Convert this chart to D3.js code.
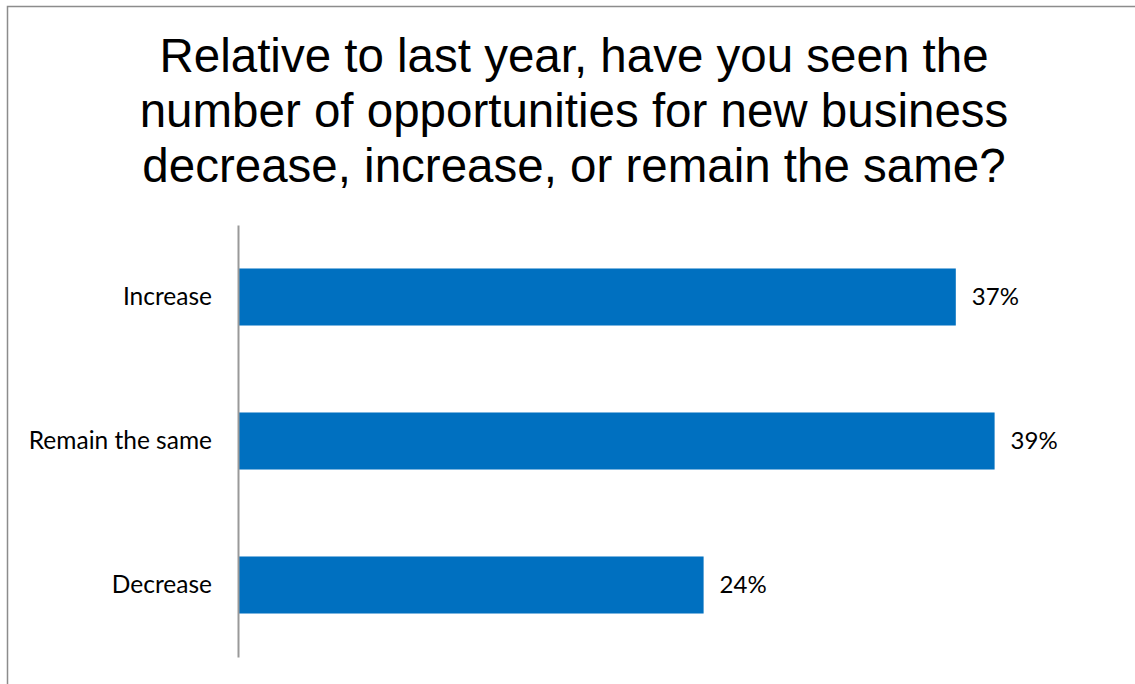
<!DOCTYPE html>
<html>
<head>
<meta charset="utf-8">
<script src="https://cdn.jsdelivr.net/npm/d3@7"></script>
<style>
  html, body { margin: 0; padding: 0; background: #fff; }
  svg { display: block; }
</style>
</head>
<body>
<svg id="chart" width="1135" height="684"></svg>
<script>
// Survey responses, top to bottom
const categories = ["Increase", "Remain the same", "Decrease"];
const shares = [37, 39, 24];
const titleLines = [
  "Relative to last year, have you seen the",
  "number of opportunities for new business",
  "decrease, increase, or remain the same?"
];

const svg = d3.select("#chart");
const W = 1135, H = 684;

// outer frame (only left and top edges fall inside the view)
svg.append("rect")
  .attr("x", 7.5).attr("y", 6.5)
  .attr("width", W + 20).attr("height", H + 20)
  .attr("fill", "#fff")
  .attr("stroke", "#8c8c8c")
  .attr("stroke-width", 1.5);

// title
svg.append("text")
  .attr("text-anchor", "middle")
  .attr("font-family", "'Liberation Sans', Arial, sans-serif")
  .attr("font-size", 47.5)
  .attr("fill", "#000")
  .selectAll("tspan")
  .data(titleLines)
  .join("tspan")
  .attr("x", 574)
  .attr("y", (d, i) => 72 + i * 55)
  .text(d => d);

const x0 = 238;
const x = d3.scaleLinear().domain([0, 40]).range([x0, x0 + 776]);
const y = d3.scaleBand().domain(categories).range([225, 657])
  .paddingInner(0.604).paddingOuter(0.302);

// bars
svg.append("g").selectAll("rect")
  .data(categories)
  .join("rect")
  .attr("x", x(0))
  .attr("y", d => y(d))
  .attr("width", (d, i) => x(shares[i]) - x(0))
  .attr("height", y.bandwidth())
  .attr("fill", "#0070c0");

// category axis
const axis = d3.axisLeft(y).tickSize(0).tickPadding(26);
const gAxis = svg.append("g")
  .attr("transform", `translate(${x0},0)`)
  .call(axis);
gAxis.select(".domain")
  .attr("stroke", "#999")
  .attr("stroke-width", 2);
gAxis.selectAll("text")
  .attr("font-family", "Lato, 'Open Sans', sans-serif")
  .attr("font-size", 24.5)
  .attr("fill", "#000");

// value labels
svg.append("g").selectAll("text")
  .data(categories)
  .join("text")
  .attr("x", (d, i) => x(shares[i]) + 16)
  .attr("y", d => y(d) + y.bandwidth() / 2)
  .attr("dy", "0.35em")
  .attr("font-family", "Lato, 'Open Sans', sans-serif")
  .attr("font-size", 24)
  .attr("fill", "#000")
  .text((d, i) => shares[i] + "%");
</script>
</body>
</html>
